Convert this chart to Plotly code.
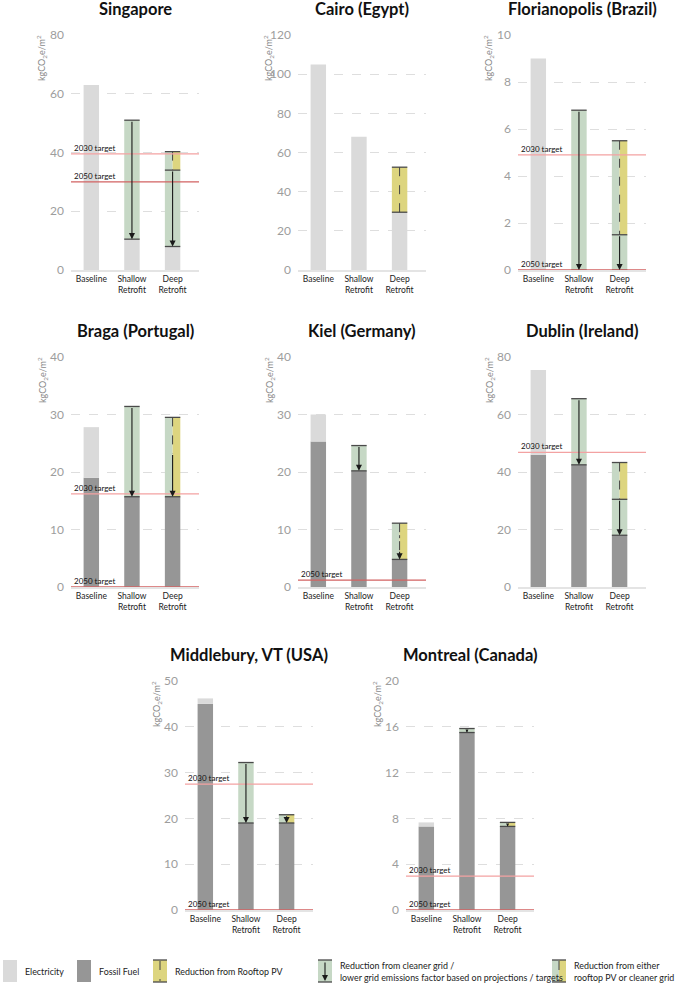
import plotly.graph_objects as go

W, H = 685, 985

# ---------------- data ----------------
CITIES = ["Singapore", "Cairo (Egypt)", "Florianopolis (Brazil)",
          "Braga (Portugal)", "Kiel (Germany)", "Dublin (Ireland)",
          "Middlebury, VT (USA)", "Montreal (Canada)"]
CATEGORIES = ["Baseline", "Shallow<br>Retrofit", "Deep<br>Retrofit"]
Y_MAX = [80, 120, 10, 40, 40, 80, 50, 20]
Y_STEP = [20, 20, 2, 10, 10, 20, 10, 4]
FOSSIL = [[0, 0, 0], [0, 0, 0], [0, 0, 0], [19, 15.7, 15.7], [25.3, 20.2, 4.8],
          [46, 42.5, 18], [45, 19, 19], [7.3, 15.5, 7.3]]
ELECTRICITY = [[63, 10.5, 8], [105, 68, 29.5], [9, 0, 0], [8.8, 0, 0], [4.7, 0, 0],
               [29.5, 0, 0], [1.2, 0, 0], [0.35, 0, 0]]
# reductions: (bar index, bottom, top)
GRID_CUT = [[(1, 10.5, 51), (2, 8, 34)], [], [(1, 0, 6.8), (2, 0, 1.5)],
            [(1, 15.7, 31.4)], [(1, 20.2, 24.6)], [(1, 42.5, 65.5), (2, 18, 30.5)],
            [(1, 19, 32.2)], [(1, 15.5, 15.85)]]
PV_CUT = [[], [(2, 29.5, 52.5)], [], [], [], [], [], []]
EITHER_CUT = [[(2, 34, 40.3)], [], [(2, 1.5, 5.5)], [(2, 15.7, 29.5)], [(2, 4.8, 11.1)],
              [(2, 30.5, 43.3)], [(2, 19, 20.8)], [(2, 7.3, 7.65)]]
# arrows: (bar index, from, to)
ARROWS = [[(1, 51, 10.5), (2, 34, 8)], [], [(1, 6.8, 0), (2, 1.5, 0)],
          [(1, 31.4, 15.7), (2, 23.2, 15.7)], [(1, 24.6, 20.2), (2, 6.4, 4.8)],
          [(1, 65.5, 42.5), (2, 30.5, 18)], [(1, 32.2, 19), (2, 20.8, 19)],
          [(1, 15.85, 15.5), (2, 7.65, 7.3)]]
DASHES = [[(2, 40.3, 34)], [(2, 52.5, 29.5)], [(2, 5.5, 1.5)], [(2, 29.5, 23.2)],
          [(2, 11.1, 6.4)], [(2, 43.3, 30.5)], [], []]
DASH_STYLE = ["dash", "dash", "dash", "dash", "dashdot", "dash", "dash", "dash"]
TARGET_2030 = [39.5, None, 4.9, 16.2, None, 46.8, 27.5, 2.95]
TARGET_2050 = [30, None, 0, 0, 1.2, None, 0, 0]

# ---------------- style ----------------
PANEL_LEFT = [71, 298, 518, 71, 298, 518, 185, 406]
PANEL_TOP = [35, 35, 35, 357, 357, 357, 681, 681]
PANEL_H = [235, 235, 235, 230, 230, 230, 229, 229]
PANEL_W = 128
XR = [-0.5, 2.65]
BW = 0.38

C_ELEC = "#dadada"
C_FOSSIL = "#969696"
C_GRID = "#c6d8c5"
C_PV = "#ddd57f"
C_CAP = "#4a4a4a"
C_2030 = "#f3a2a2"
C_2050 = "#d26262"
FONT = "Lato, Open Sans, sans-serif"

fig = go.Figure()
annotations = []
shapes = []
layout = {}

for i, city in enumerate(CITIES):
    sfx = "" if i == 0 else str(i + 1)
    xa, ya = "x" + sfx, "y" + sfx
    left, top, ph = PANEL_LEFT[i], PANEL_TOP[i], PANEL_H[i]
    layout["xaxis" + sfx] = dict(
        domain=[left / W, (left + PANEL_W) / W], range=XR, anchor=ya,
        tickvals=[0, 1, 2], ticktext=CATEGORIES, showgrid=False, zeroline=False,
        showline=True, linecolor="#e4e4e4", linewidth=2, ticks="", automargin=False,
        tickfont=dict(size=8.5, color="#222", family=FONT), fixedrange=True,
        layer="below traces")
    layout["yaxis" + sfx] = dict(
        domain=[1 - (top + ph) / H, 1 - top / H], range=[0, Y_MAX[i]], dtick=Y_STEP[i],
        anchor=xa, showgrid=True, gridcolor="#dedede", griddash="dash", gridwidth=1,
        zeroline=False, showline=False, ticks="", ticklabelstandoff=6, automargin=False,
        tickfont=dict(size=12, color="#9d9d9d", family=FONT), fixedrange=True,
        layer="below traces")

    common = dict(xaxis=xa, yaxis=ya, showlegend=False, hoverinfo="skip",
                  marker_line_width=0)
    # fossil + electricity
    fig.add_trace(go.Bar(x=[0, 1, 2], y=FOSSIL[i], base=[0, 0, 0], width=BW,
                         offset=-BW / 2, marker_color=C_FOSSIL, **common))
    fig.add_trace(go.Bar(x=[0, 1, 2], y=ELECTRICITY[i], base=FOSSIL[i], width=BW,
                         offset=-BW / 2, marker_color=C_ELEC, **common))
    # reductions
    for segs, col in ((GRID_CUT[i], C_GRID), (PV_CUT[i], C_PV)):
        if segs:
            fig.add_trace(go.Bar(x=[s[0] for s in segs], y=[s[2] - s[1] for s in segs],
                                 base=[s[1] for s in segs], width=BW, offset=-BW / 2,
                                 marker_color=col, **common))
    if EITHER_CUT[i]:
        segs = EITHER_CUT[i]
        fig.add_trace(go.Bar(x=[s[0] for s in segs], y=[s[2] - s[1] for s in segs],
                             base=[s[1] for s in segs], width=BW / 2, offset=-BW / 2,
                             marker_color=C_GRID, **common))
        fig.add_trace(go.Bar(x=[s[0] for s in segs], y=[s[2] - s[1] for s in segs],
                             base=[s[1] for s in segs], width=BW / 2, offset=0,
                             marker_color=C_PV, **common))
    # caps
    caps = set()
    for s in GRID_CUT[i] + PV_CUT[i] + EITHER_CUT[i]:
        caps.add((s[0], s[1]))
        caps.add((s[0], s[2]))
    cx, cy = [], []
    for b, v in sorted(caps):
        cx += [b - BW / 2, b + BW / 2, None]
        cy += [v, v, None]
    if cx:
        fig.add_trace(go.Scatter(x=cx, y=cy, mode="lines", xaxis=xa, yaxis=ya,
                                 line=dict(color=C_CAP, width=1.3), showlegend=False,
                                 hoverinfo="skip"))
    # dashes
    for b, v0, v1 in DASHES[i]:
        fig.add_trace(go.Scatter(x=[b, b], y=[v0, v1], mode="lines", xaxis=xa, yaxis=ya,
                                 line=dict(color="#444", width=1, dash=DASH_STYLE[i]),
                                 showlegend=False, hoverinfo="skip"))
    # targets
    for tval, col, lab in ((TARGET_2030[i], C_2030, "2030 target"),
                           (TARGET_2050[i], C_2050, "2050 target")):
        if tval is None:
            continue
        fig.add_trace(go.Scatter(x=XR, y=[tval, tval], mode="lines", xaxis=xa, yaxis=ya,
                                 line=dict(color=col, width=1.3), showlegend=False,
                                 hoverinfo="skip"))
        annotations.append(dict(x=XR[0], y=tval, xref=xa, yref=ya, text=lab,
                                showarrow=False, xanchor="left", yanchor="bottom",
                                xshift=1, yshift=-1,
                                font=dict(size=8, color="#111", family=FONT)))
    # arrows
    for b, v0, v1 in ARROWS[i]:
        pix = (v0 - v1) / Y_MAX[i] * ph
        annotations.append(dict(x=b, y=v1, ax=b, ay=v0, xref=xa, yref=ya, axref=xa,
                                ayref=ya, text="", showarrow=True, arrowhead=2,
                                arrowsize=1.1 if pix > 8 else 0.55, arrowwidth=1.1,
                                arrowcolor="#1a1a1a", standoff=0, startstandoff=0))
    # title
    annotations.append(dict(x=(left + PANEL_W / 2) / W, y=1 - (top - 26) / H,
                            xref="paper", yref="paper", text="<b>%s</b>" % city,
                            showarrow=False, xanchor="center", yanchor="middle",
                            font=dict(size=16.5, color="#111", family=FONT)))
    # y axis title
    annotations.append(dict(x=(left - 29) / W, y=1 - (top - 2) / H, xref="paper",
                            yref="paper", text="kgCO<sub>2</sub>e/m<sup>2</sup>",
                            textangle=-90, showarrow=False, xanchor="center",
                            yanchor="top", font=dict(size=9, color="#8a8a8a", family=FONT)))

# ---------------- legend ----------------
def px(x):
    return x / W


def py(y):
    return 1 - y / H


LY0, LY1 = 960, 982
legend_items = [
    (3, "solid", C_ELEC, "Electricity"),
    (77, "solid", C_FOSSIL, "Fossil Fuel"),
    (153, "pv", C_PV, "Reduction from Rooftop PV"),
    (318, "grid", C_GRID, "Reduction from cleaner grid /<br>lower grid emissions factor based on projections / targets"),
    (552, "either", C_GRID, "Reduction from either<br>rooftop PV or cleaner grid"),
]
SW = 14
for x0, kind, col, label in legend_items:
    if kind == "either":
        shapes.append(dict(type="rect", xref="paper", yref="paper", x0=px(x0), x1=px(x0 + SW / 2),
                           y0=py(LY1), y1=py(LY0), fillcolor=C_GRID, line_width=0))
        shapes.append(dict(type="rect", xref="paper", yref="paper", x0=px(x0 + SW / 2), x1=px(x0 + SW),
                           y0=py(LY1), y1=py(LY0), fillcolor=C_PV, line_width=0))
    else:
        shapes.append(dict(type="rect", xref="paper", yref="paper", x0=px(x0), x1=px(x0 + SW),
                           y0=py(LY1), y1=py(LY0), fillcolor=col, line_width=0))
    if kind in ("pv", "grid", "either"):
        for yy in (LY0, LY1):
            shapes.append(dict(type="line", xref="paper", yref="paper", x0=px(x0), x1=px(x0 + SW),
                               y0=py(yy), y1=py(yy), line=dict(color=C_CAP, width=1.3)))
    if kind in ("pv", "either"):
        shapes.append(dict(type="line", xref="paper", yref="paper", x0=px(x0 + SW / 2),
                           x1=px(x0 + SW / 2), y0=py(LY0 + 1), y1=py(LY1 - 1),
                           line=dict(color="#444", width=1, dash="dash")))
    if kind == "grid":
        annotations.append(dict(x=px(x0 + SW / 2), y=py(LY1 - 1), ax=0, ay=-(LY1 - LY0 - 2),
                                xref="paper", yref="paper", axref="pixel", ayref="pixel",
                                text="", showarrow=True, arrowhead=2, arrowsize=1.1,
                                arrowwidth=1.1, arrowcolor="#1a1a1a", standoff=0))
    annotations.append(dict(x=px(x0 + SW + 6), y=py((LY0 + LY1) / 2), xref="paper", yref="paper",
                            text=label, showarrow=False, xanchor="left", yanchor="middle",
                            align="left", font=dict(size=8.9, color="#222", family=FONT)))

fig.update_layout(
    width=W, height=H, margin=dict(l=0, r=0, t=0, b=0, pad=0, autoexpand=False),
    paper_bgcolor="white", plot_bgcolor="white", showlegend=False,
    barmode="overlay", annotations=annotations, shapes=shapes, **layout)

fig.write_html("out.html", config={"displayModeBar": False},
               post_script="document.body.style.margin='0';")
